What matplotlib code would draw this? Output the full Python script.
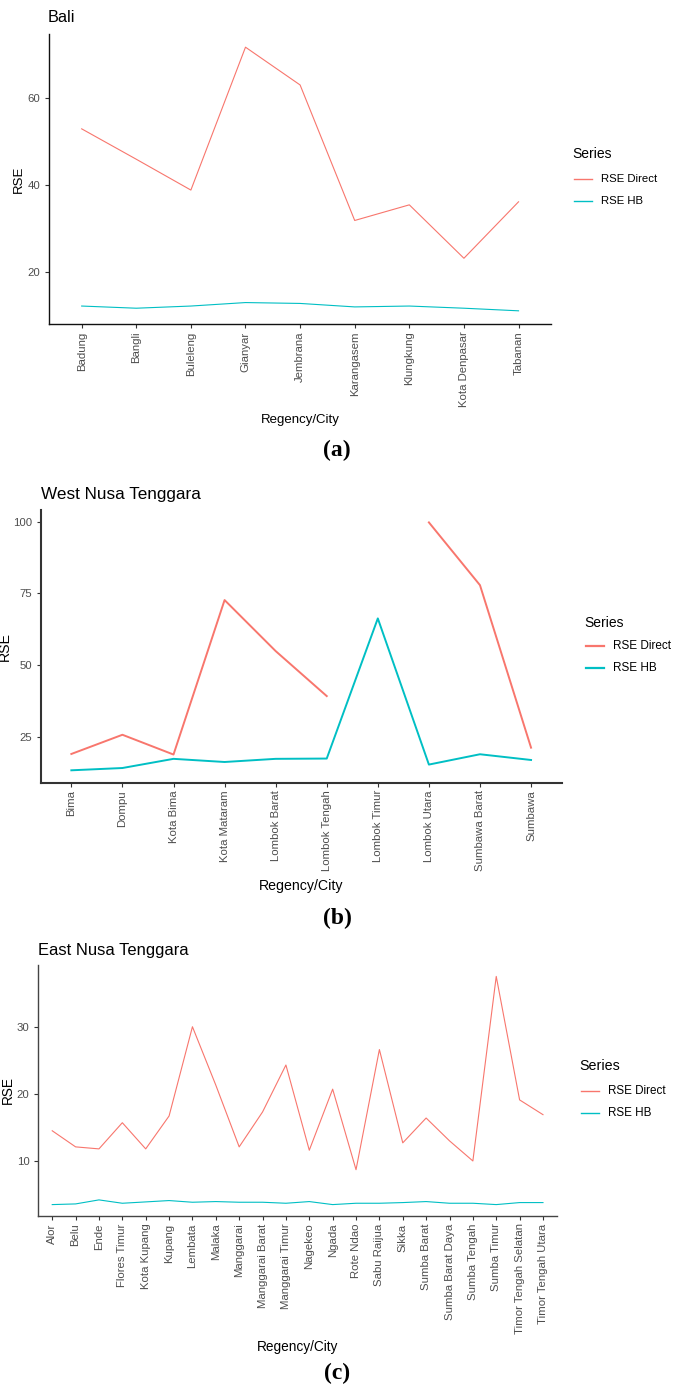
import matplotlib
matplotlib.use('Agg')
import matplotlib.pyplot as plt
from matplotlib.lines import Line2D
import numpy as np

W, H = 673, 1388
RED = '#F8766D'
CYAN = '#00BFC4'
GREY = '#4D4D4D'
SANS = 'Liberation Sans'

# Bali
bali_regions = ['Badung', 'Bangli', 'Buleleng', 'Gianyar', 'Jembrana',
                'Karangasem', 'Klungkung', 'Kota Denpasar', 'Tabanan']
bali_direct = [52.9, 45.9, 38.8, 71.7, 63.0, 31.8, 35.4, 23.1, 36.1]
bali_hb = [12.1, 11.6, 12.1, 12.9, 12.7, 11.9, 12.1, 11.6, 11.0]
bali_yticks = [20, 40, 60]

# West Nusa Tenggara (no direct estimate for Lombok Timur)
ntb_regions = ['Bima', 'Dompu', 'Kota Bima', 'Kota Mataram', 'Lombok Barat',
               'Lombok Tengah', 'Lombok Timur', 'Lombok Utara', 'Sumbawa Barat',
               'Sumbawa']
ntb_direct = [19.0, 25.7, 18.8, 72.7, 54.9, 39.2, np.nan, 99.8, 77.9, 21.2]
ntb_hb = [13.3, 14.1, 17.3, 16.2, 17.3, 17.4, 66.3, 15.3, 18.9, 16.9]
ntb_yticks = [25, 50, 75, 100]

# East Nusa Tenggara
ntt_regions = ['Alor', 'Belu', 'Ende', 'Flores Timur', 'Kota Kupang', 'Kupang',
               'Lembata', 'Malaka', 'Manggarai', 'Manggarai Barat',
               'Manggarai Timur', 'Nagekeo', 'Ngada', 'Rote Ndao', 'Sabu Raijua',
               'Sikka', 'Sumba Barat', 'Sumba Barat Daya', 'Sumba Tengah',
               'Sumba Timur', 'Timor Tengah Selatan', 'Timor Tengah Utara']
ntt_direct = [14.5, 12.1, 11.8, 15.7, 11.8, 16.7, 30.0, 21.3, 12.1, 17.3, 24.3,
              11.6, 20.7, 8.7, 26.6, 12.7, 16.4, 13.0, 10.0, 37.5, 19.1, 16.9]
ntt_hb = [3.5, 3.6, 4.2, 3.7, 3.9, 4.1, 3.85, 3.95, 3.85, 3.85, 3.7, 3.95, 3.5,
          3.7, 3.7, 3.8, 3.95, 3.7, 3.7, 3.5, 3.8, 3.8]
ntt_yticks = [10, 20, 30]

series_names = ['RSE Direct', 'RSE HB']


def fx(x):
    return x / W


def fy(y):
    return 1 - y / H


fig = plt.figure(figsize=(W / 100, H / 100), dpi=100)


def panel(box, regions, direct, hb, yticks, title, cfg):
    l, r, t, b = box
    ax = fig.add_axes([fx(l), fy(b), (r - l) / W, (b - t) / H])
    x = np.arange(len(regions))
    ax.plot(x, direct, color=RED, lw=cfg['lw'], label=series_names[0])
    ax.plot(x, hb, color=CYAN, lw=cfg['lw'], label=series_names[1])

    vals = np.array(list(direct) + list(hb), dtype=float)
    lo, hi = np.nanmin(vals), np.nanmax(vals)
    pad = 0.05 * (hi - lo)
    ax.set_ylim(lo - pad, hi + pad)
    ax.set_xlim(-0.6, len(regions) - 0.4)
    ax.set_yticks(yticks)
    ax.set_xticks(x)
    ax.set_xticklabels(regions, rotation=90, fontsize=8.2, family=SANS, color=GREY)
    for lab in ax.get_yticklabels():
        lab.set_fontsize(8.2)
        lab.set_family(SANS)
        lab.set_color(GREY)
    ax.tick_params(length=3.2, width=0.8, color='#333333')
    ax.tick_params(axis='y', pad=3)
    ax.tick_params(axis='x', pad=2.2)
    for s in ['top', 'right']:
        ax.spines[s].set_visible(False)
    for s in ['left', 'bottom']:
        ax.spines[s].set_color(cfg['spine_c'])
        ax.spines[s].set_linewidth(cfg['spine_lw'])

    ax.set_xlabel('Regency/City', fontsize=cfg['lab_fs'], family=SANS, va='center')
    ax.xaxis.set_label_coords(0.5, (b - cfg['xlab_y']) / (b - t))
    ax.set_ylabel('RSE', fontsize=cfg['lab_fs'], family=SANS, va='center')
    ax.yaxis.set_label_coords((cfg['ylab_x'] - l) / (r - l), 0.5)

    fig.text(fx(cfg['title_x']), fy(cfg['title_y']), title, fontsize=cfg['title_fs'],
             family=SANS, ha='left', va='center')

    # legend
    lx, ly = cfg['leg']
    fig.text(fx(lx), fy(ly), 'Series', fontsize=cfg['leg_title_fs'], family=SANS,
             ha='left', va='center')
    for i, (name, col) in enumerate(zip(series_names, [RED, CYAN])):
        yy = ly + cfg['leg_gap'] + i * cfg['leg_step']
        fig.add_artist(Line2D([fx(lx + 2), fx(lx + 20)], [fy(yy), fy(yy)],
                              transform=fig.transFigure, color=col, lw=cfg['lw'] + 0.2))
        fig.text(fx(lx + 29), fy(yy), name, fontsize=cfg['leg_fs'], family=SANS,
                 ha='left', va='center')

    fig.text(fx(337), fy(cfg['cap_y']), cfg['cap'], fontsize=17, family='Liberation Serif',
             weight='bold', ha='center', va='center')
    return ax


panel((48.9, 551.3, 34, 324), bali_regions, bali_direct, bali_hb, bali_yticks, 'Bali',
      dict(lw=0.8, spine_c='#111111', spine_lw=1.0, lab_fs=9.5, xlab_y=420, ylab_x=18.6,
           title_x=48, title_y=18, title_fs=11.7, leg=(572, 154), leg_gap=25,
           leg_step=22, leg_fs=8.2, leg_title_fs=10, cap='(a)', cap_y=450))

panel((40.7, 561.7, 510, 782.7), ntb_regions, ntb_direct, ntb_hb, ntb_yticks,
      'West Nusa Tenggara',
      dict(lw=1.4, spine_c='#333333', spine_lw=1.5, lab_fs=10.2, xlab_y=886, ylab_x=5,
           title_x=41, title_y=494, title_fs=12.3, leg=(584, 622.7), leg_gap=23,
           leg_step=22.6, leg_fs=8.5, leg_title_fs=10, cap='(b)', cap_y=918))

panel((38.2, 557, 965, 1216), ntt_regions, ntt_direct, ntt_hb, ntt_yticks,
      'East Nusa Tenggara',
      dict(lw=0.8, spine_c='#444444', spine_lw=1.0, lab_fs=9.8, xlab_y=1346.7, ylab_x=8,
           title_x=38, title_y=950, title_fs=11.9, leg=(579, 1066), leg_gap=25,
           leg_step=22.3, leg_fs=8.4, leg_title_fs=10.3, cap='(c)', cap_y=1373))

fig.savefig('out.png', dpi=100)
